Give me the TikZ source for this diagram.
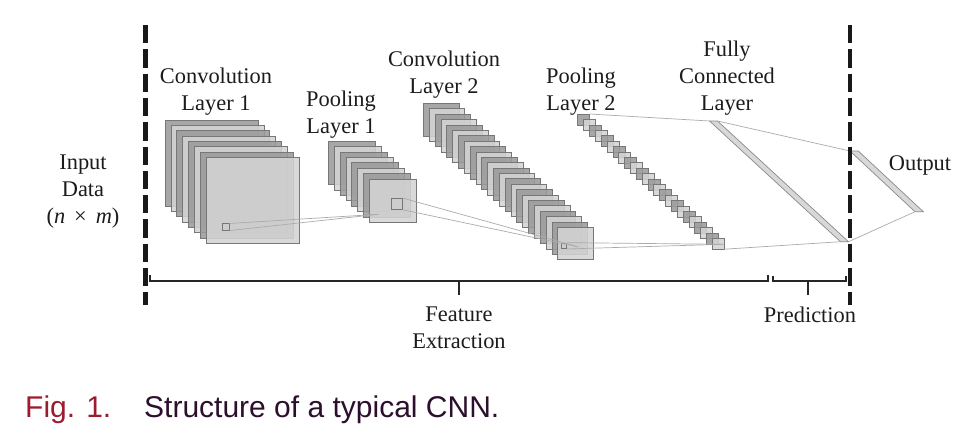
\documentclass[tikz,border=0pt]{standalone}
\usepackage{fontspec}
\setmainfont{Liberation Serif}
\newfontfamily\capfont{Liberation Sans}
\definecolor{fmc0}{HTML}{9A9A9A}
\definecolor{fmc1}{HTML}{D4D4D4}
\definecolor{sqedge}{HTML}{777777}
\definecolor{connc}{HTML}{ABABAB}
\definecolor{barfill}{HTML}{D8D8D8}
\definecolor{baredge}{HTML}{8A8A8A}
\definecolor{txtc}{HTML}{1C1C1C}
\definecolor{figred}{HTML}{9C1B2E}
\definecolor{capc}{HTML}{2C0F2C}
\begin{document}
\begin{tikzpicture}[x=1pt,y=-1pt,
  lbl/.style={font=\fontsize{22.4}{27}\selectfont, text=txtc, inner sep=0pt, align=center, anchor=base},
  fm/.style={draw=sqedge, line width=0.6pt, fill opacity=0.87, fill=#1},
  smallsq/.style={draw=sqedge, line width=0.7pt, inner sep=0pt, minimum width=#1, minimum height=#1},
  conn/.style={draw=connc, line width=0.7pt},
  bar/.style={draw=baredge, fill=barfill, line width=0.7pt},
  brk/.style={draw=black!85, line width=2pt},
  sepline/.style={draw=black!90, line width=4.5pt, dash pattern=on 18.3pt off 6pt},
  caption/.style={font=\capfont\fontsize{30}{36}\selectfont, inner sep=0pt, anchor=base west}
]
\fill[white] (0,0) rectangle (960,442);
\useasboundingbox (0,0) rectangle (960,442);

% Convolution layer 1
\foreach \i [evaluate=\i as \c using {int(mod(\i,2))}] in {0,...,7}
  \path[fm=fmc\c] ({165+5.83*\i},{120+5.33*\i}) rectangle ++(93,86);
\node[smallsq=6.4pt] (s1) at (226,227) {};

% Pooling layer 1
\foreach \i [evaluate=\i as \c using {int(mod(\i,2))}] in {0,...,7}
  \path[fm=fmc\c] ({328.3+5.86*\i},{141+5.4*\i}) rectangle ++(47,43.5);
\node[smallsq=11pt] (s2) at (396.5,203.8) {};

% Convolution layer 2
\foreach \i [evaluate=\i as \c using {int(mod(\i,2))}] in {0,...,23}
  \path[fm=fmc\c] ({423.3+5.843*\i},{103.3+5.39*\i}) rectangle ++(35.5,32.5);
\node[smallsq=5.6pt] (s3) at (563.7,245.8) {};

% Pooling layer 2
\foreach \i [evaluate=\i as \c using {int(mod(\i,2))}] in {0,...,23}
  \path[fm=fmc\c] ({577.7+5.85*\i},{114+5.4*\i}) rectangle ++(12,11);
\coordinate (q2a) at (589.7,114);
\coordinate (q2b) at (724.3,249.2);

% Fully connected layer and output
\coordinate (fc1) at (709.5,121);
\coordinate (fc2) at (717.5,121);
\coordinate (fc3) at (848.5,241.7);
\coordinate (fc4) at (840.5,241.7);
\path[bar] (fc1) -- (fc2) -- (fc3) -- (fc4) -- cycle;
\coordinate (o1) at (850,151);
\coordinate (o2) at (858.3,151);
\coordinate (o3) at (923.3,211.7);
\coordinate (o4) at (915,211.7);
\path[bar] (o1) -- (o2) -- (o3) -- (o4) -- cycle;

% connectors
\coordinate (p1) at (378.3,214.3);
\coordinate (p2) at (578.3,246.9);
\coordinate (p3) at (723,244.3);
\draw[conn] (s1.north east) -- (p1);
\draw[conn] (s1.south east) -- (p1);
\draw[conn] (s2.north east) -- (p2);
\draw[conn] (s2.south east) -- (p2);
\draw[conn] (s3.north east) -- (p3);
\draw[conn] (s3.south east) -- (p3);
\draw[conn] (q2a) -- (fc1);
\draw[conn] (q2b) -- (fc4);
\draw[conn] (fc2) -- (o1);
\draw[conn] (fc3) -- (o4);

% separators
\coordinate (dl1) at (145.7,25);
\coordinate (dl2) at (145.7,305);
\coordinate (dr1) at (850,25);
\coordinate (dr2) at (850,305);
\draw[sepline] (dl1) -- (dl2);
\draw[sepline] (dr1) -- (dr2);

% brackets
\draw[brk] (150,275) -- (150,281) -- (768,281) -- (768,275);
\draw[brk] (459,281) -- (459,295);
\draw[brk] (772.7,276) -- (772.7,281) -- (845.7,281) -- (845.7,276);
\draw[brk] (808.3,281) -- (808.3,295);

% labels (anchor = baseline of last line)
\node[lbl] (lin) at (83,223) {Input\\Data\\(\textit{n}\hspace{.4em}×\hspace{.4em}\textit{m})};
\node[lbl] (lc1) at (216,110.5) {Convolution\\Layer 1};
\node[lbl] (lp1) at (341,133) {Pooling\\Layer 1};
\node[lbl] (lc2) at (444,93.5) {Convolution\\Layer 2};
\node[lbl] (lp2) at (581,110.5) {Pooling\\Layer 2};
\node[lbl] (lfc) at (727,110.5) {Fully\\Connected\\Layer};
\node[lbl] (lout) at (920,170) {Output};
\node[lbl] (lfe) at (459,348) {Feature\\Extraction};
\node[lbl] (lpr) at (810,322) {Prediction};

% caption
\node[caption, text=figred] (fig) at (25,417.5) {Fig. 1.};
\node[caption, text=capc] (cap) at (144,417.5) {Structure of a typical CNN.};
\end{tikzpicture}
\end{document}
